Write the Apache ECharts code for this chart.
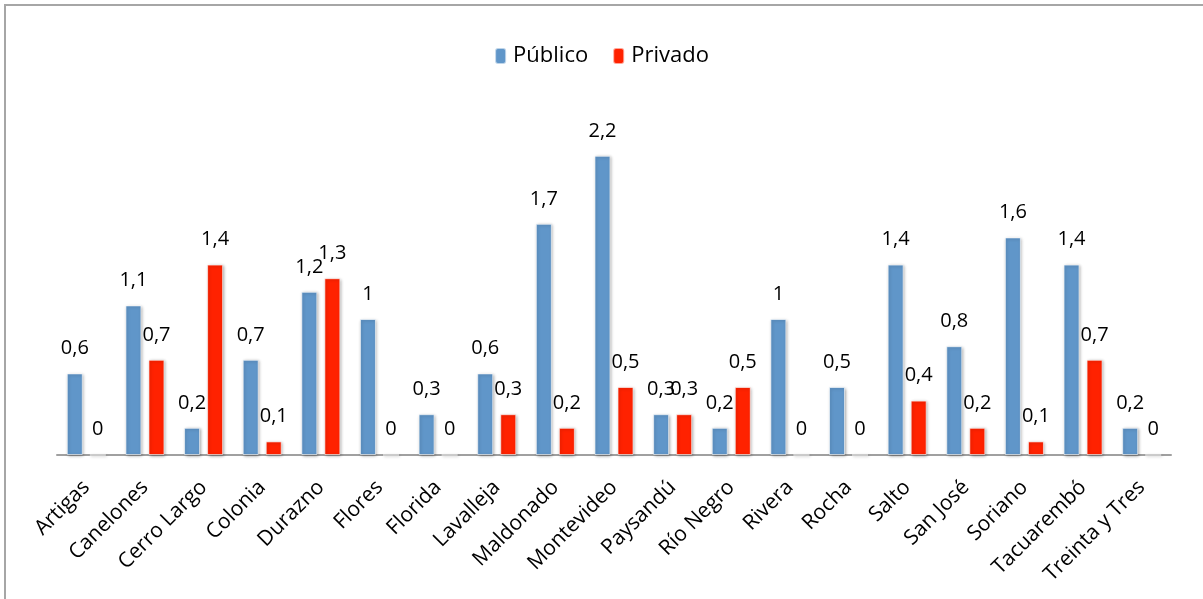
<!DOCTYPE html>
<html>
<head>
<meta charset="utf-8">
<style>
  html, body { margin: 0; padding: 0; background: #ffffff; }
  #chart { width: 1203px; height: 599px; }
</style>
<script src="https://cdn.jsdelivr.net/npm/echarts@6/dist/echarts.min.js"></script>
</head>
<body>
<div id="chart"></div>
<script>
// Departamentos
const categories = [
  'Artigas', 'Canelones', 'Cerro Largo', 'Colonia', 'Durazno', 'Flores', 'Florida',
  'Lavalleja', 'Maldonado', 'Montevideo', 'Paysandú', 'Río Negro', 'Rivera', 'Rocha',
  'Salto', 'San José', 'Soriano', 'Tacuarembó', 'Treinta y Tres'
];
// Valores (%) por sector
const publico = [0.6, 1.1, 0.2, 0.7, 1.2, 1, 0.3, 0.6, 1.7, 2.2, 0.3, 0.2, 1, 0.5, 1.4, 0.8, 1.6, 1.4, 0.2];
const privado = [0, 0.7, 1.4, 0.1, 1.3, 0, 0, 0.3, 0.2, 0.5, 0.3, 0.5, 0, 0, 0.4, 0.2, 0.1, 0.7, 0];
const seriesNames = ['Público', 'Privado'];

const FONT = '"Open Sans", "Noto Sans", sans-serif';
const fmt = p => String(p.value).replace('.', ',');

const labelStyle = {
  show: true,
  position: 'top',
  distance: 15,
  formatter: fmt,
  color: '#000',
  fontFamily: FONT,
  fontSize: 20
};

const barShadow = {
  shadowBlur: 3,
  shadowColor: 'rgba(0,0,0,0.35)',
  shadowOffsetX: 1,
  shadowOffsetY: 1,
  borderColor: 'rgba(255,255,255,0.6)',
  borderWidth: 1
};

const chart = echarts.init(document.getElementById('chart'), null, { renderer: 'canvas' });
chart.setOption({
  animation: false,
  backgroundColor: '#ffffff',
  graphic: [{
    type: 'rect',
    shape: { x: 5, y: 5, width: 1300, height: 700 },
    style: { fill: 'none', stroke: '#a6a6a6', lineWidth: 2 },
    silent: true
  }],
  legend: {
    data: seriesNames,
    top: 40,
    left: 'center',
    itemWidth: 11,
    itemHeight: 16,
    itemGap: 24,
    textStyle: { fontFamily: FONT, fontSize: 22, color: '#000', padding: [0, 0, 0, 2] }
  },
  grid: { left: 57, right: 32, top: 115, bottom: 144, containLabel: false },
  xAxis: {
    type: 'category',
    data: categories,
    axisLine: { lineStyle: { color: '#a0a0a0', width: 2 } },
    axisTick: { show: false },
    axisLabel: {
      rotate: 45,
      interval: 0,
      margin: 29,
      color: '#000',
      fontFamily: FONT,
      fontSize: 21
    }
  },
  yAxis: {
    type: 'value',
    min: 0,
    max: 2.5,
    interval: 0.5,
    show: false,
    splitLine: { show: false }
  },
  series: [
    {
      name: seriesNames[0],
      type: 'bar',
      data: publico,
      barWidth: 16,
      barGap: '44%',
      itemStyle: Object.assign({ color: '#6096c9' }, barShadow),
      label: labelStyle
    },
    {
      name: seriesNames[1],
      type: 'bar',
      data: privado,
      barWidth: 16,
      itemStyle: Object.assign({ color: '#ff2200' }, barShadow),
      label: labelStyle
    }
  ]
});
</script>
</body>
</html>
